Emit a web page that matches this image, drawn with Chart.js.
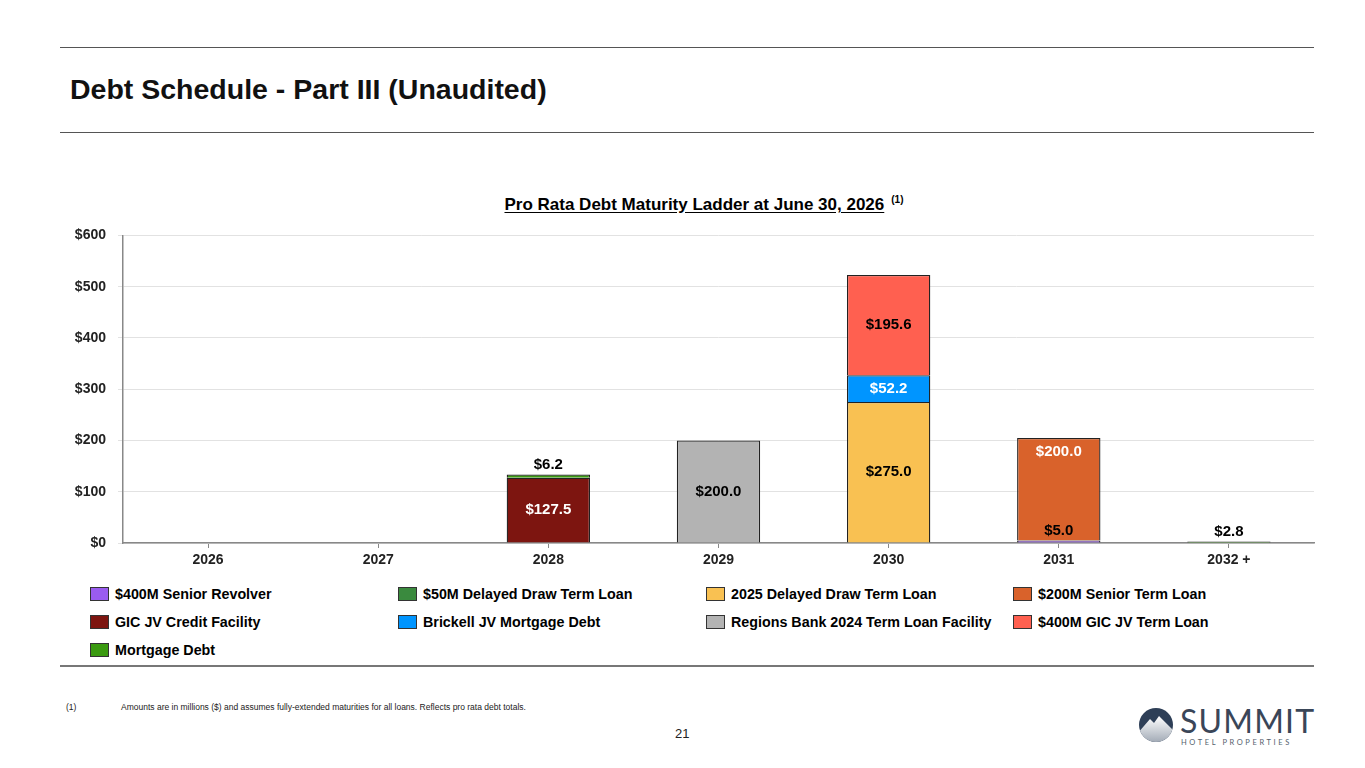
<!DOCTYPE html>
<html>
<head>
<meta charset="utf-8">
<script src="https://cdn.jsdelivr.net/npm/chart.js@4/dist/chart.umd.min.js"></script>
<style>
  body { margin: 0; background: #fff; font-family: "Liberation Sans", Arial, sans-serif; color: #000; }
  #page { position: relative; width: 1365px; height: 768px; overflow: hidden; }
  .rule { position: absolute; left: 60px; width: 1254px; height: 1px; background: #555; }
  #title { position: absolute; left: 70px; top: 73px; font-size: 28.5px; font-weight: bold; color: #111; }
  #chartTitle { position: absolute; left: 0; width: 1408px; top: 194px; text-align: center; font-size: 17px; font-weight: bold; }
  #chartTitle u { text-underline-offset: 2px; }
  #chartTitle sup { font-size: 10px; margin-left: 7px; vertical-align: 7px; }
  #chartBox { position: absolute; left: 60px; top: 215px; width: 1260px; height: 358px; }
  #legend { position: absolute; left: 90px; top: 586px; width: 1240px; }
  .item { position: absolute; display: flex; align-items: center; font-size: 14.3px; font-weight: bold; white-space: nowrap; }
  .swatch { width: 19px; height: 14px; border: 1px solid #333; margin-right: 6px; box-sizing: border-box; }
  #foot { position: absolute; left: 66px; top: 702px; font-size: 8.5px; color: #222; }
  #foot span { position: absolute; left: 55px; white-space: nowrap; }
  #pageNo { position: absolute; left: 675px; top: 726px; font-size: 13px; color: #222; }
  #logo { position: absolute; left: 1138px; top: 703px; }
</style>
</head>
<body>
<div id="page">
  <div class="rule" style="top:47px"></div>
  <div id="title">Debt Schedule - Part III (Unaudited)</div>
  <div class="rule" style="top:132px"></div>

  <div id="chartTitle"><u>Pro Rata Debt Maturity Ladder at June 30, 2026</u><sup>(1)</sup></div>
  <div id="chartBox"><canvas id="chart"></canvas></div>
  <div id="legend"></div>

  <div class="rule" style="top:665px;height:2px;background:#777"></div>
  <div id="foot">(1)<span>Amounts are in millions ($) and assumes fully-extended maturities for all loans. Reflects pro rata debt totals.</span></div>
  <div id="pageNo">21</div>

  <svg id="logo" width="180" height="45" viewBox="0 0 180 45">
    <defs>
      <clipPath id="disc"><circle cx="18" cy="22" r="17"/></clipPath>
      <linearGradient id="snow" x1="0" y1="0" x2="0" y2="1">
        <stop offset="0" stop-color="#ffffff"/>
        <stop offset="1" stop-color="#8e98a6"/>
      </linearGradient>
    </defs>
    <g clip-path="url(#disc)">
      <rect x="0" y="0" width="40" height="45" fill="#2e3f57"/>
      <path d="M0 30 L12 16 L16 20 L21 13 L36 28 L36 45 L0 45 Z" fill="url(#snow)"/>
    </g>
    <text x="42" y="30" font-family="Lato, 'Open Sans', sans-serif" font-size="32" fill="#3a4658" letter-spacing="1.2">SUMMIT</text>
    <text x="43" y="42" font-family="Lato, 'Open Sans', sans-serif" font-size="7.5" fill="#555f6d" letter-spacing="2.6">HOTEL PROPERTIES</text>
  </svg>
</div>

<script>
const categories = ['2026', '2027', '2028', '2029', '2030', '2031', '2032 +'];

// values in $ millions, null where a loan has no maturity that year
const seniorRevolver400   = [null, null, null, null, null, 5.0, null];
const delayedDraw50       = [null, null, null, null, null, null, null];
const delayedDraw2025     = [null, null, null, null, 275.0, null, null];
const seniorTermLoan200   = [null, null, null, null, null, 200.0, null];
const gicCreditFacility   = [null, null, 127.5, null, null, null, null];
const brickellMortgage    = [null, null, null, null, 52.2, null, null];
const regionsTermLoan     = [null, null, null, 200.0, null, null, null];
const gicTermLoan400      = [null, null, null, null, 195.6, null, null];
const mortgageDebt        = [null, null, 6.2, null, null, null, 2.8];

const yTicks = [0, 100, 200, 300, 400, 500, 600];

const series = [
  { label: '$400M Senior Revolver',               data: seniorRevolver400, color: '#9a5cf0', text: '#000' },
  { label: '$50M Delayed Draw Term Loan',         data: delayedDraw50,     color: '#3a8a3e', text: '#fff' },
  { label: '2025 Delayed Draw Term Loan',         data: delayedDraw2025,   color: '#f9c152', text: '#000' },
  { label: '$200M Senior Term Loan',              data: seniorTermLoan200, color: '#d9622b', text: '#fff' },
  { label: 'GIC JV Credit Facility',              data: gicCreditFacility, color: '#7d1510', text: '#fff' },
  { label: 'Brickell JV Mortgage Debt',           data: brickellMortgage,  color: '#0095ff', text: '#fff' },
  { label: 'Regions Bank 2024 Term Loan Facility',data: regionsTermLoan,   color: '#b3b3b3', text: '#000' },
  { label: '$400M GIC JV Term Loan',              data: gicTermLoan400,    color: '#ff6050', text: '#000' },
  { label: 'Mortgage Debt',                       data: mortgageDebt,      color: '#3a9a10', text: '#000' }
];

// legend, 4 columns
const legend = document.getElementById('legend');
const colX = [0, 308, 616, 923];
series.forEach((s, i) => {
  const el = document.createElement('div');
  el.className = 'item';
  el.style.left = colX[i % 4] + 'px';
  el.style.top = (Math.floor(i / 4) * 28) + 'px';
  el.innerHTML = '<div class="swatch" style="background:' + s.color + '"></div>' + s.label;
  legend.appendChild(el);
});

const SMALL = 20;

// value labels on the stacked bars
const barLabels = {
  id: 'barLabels',
  afterDatasetsDraw(chart) {
    const ctx = chart.ctx;
    ctx.save();
    ctx.font = 'bold 15px "Liberation Sans", Arial, sans-serif';
    ctx.textAlign = 'center';
    ctx.textBaseline = 'middle';
    chart.data.datasets.forEach((ds, i) => {
      const meta = chart.getDatasetMeta(i);
      ds.data.forEach((v, j) => {
        if (v == null) return;
        const bar = meta.data[j];
        const top = Math.min(bar.y, bar.base);
        const bottom = Math.max(bar.y, bar.base);
        let y, color;
        if (v < SMALL) {
          y = top - 10;
          color = '#000';
        } else {
          // a small labelled segment underneath pushes this label to the top
          const smallBelow = chart.data.datasets.slice(0, i).some(d => d.data[j] != null && d.data[j] < SMALL);
          y = smallBelow ? top + 14 : (top + bottom) / 2;
          color = ds.labelColor;
        }
        ctx.fillStyle = color;
        ctx.fillText('$' + v.toFixed(1), bar.x, y);
      });
    });
    ctx.restore();
  }
};

const font = { family: '"Liberation Sans", Arial, sans-serif', size: 14, weight: 'bold' };

new Chart(document.getElementById('chart'), {
  type: 'bar',
  data: {
    labels: categories,
    datasets: series.map(s => ({
      label: s.label,
      data: s.data,
      backgroundColor: s.color,
      borderColor: '#222',
      borderWidth: 1.3,
      labelColor: s.text,
      barPercentage: 0.49,
      categoryPercentage: 1
    }))
  },
  options: {
    responsive: true,
    maintainAspectRatio: false,
    animation: false,
    layout: { padding: { top: 0, right: 6 } },
    plugins: {
      legend: { display: false },
      tooltip: { enabled: false }
    },
    scales: {
      x: {
        stacked: true,
        grid: { display: true, drawOnChartArea: false, offset: false, tickLength: 5, color: '#888' },
        border: { color: '#888', width: 1.5 },
        ticks: { font: font, color: '#222', padding: 4 },
        afterFit(scale) { scale.height = 30; }
      },
      y: {
        stacked: true,
        min: 0,
        max: 600,
        afterBuildTicks(scale) { scale.ticks = yTicks.map(v => ({ value: v })); },
        grid: { color: '#e2e2e2', tickLength: 5 },
        border: { color: '#888', width: 1.5 },
        ticks: { font: font, color: '#222', padding: 12, callback: v => '$' + v },
        afterFit(scale) { scale.width = 63; }
      }
    }
  },
  plugins: [barLabels]
});
</script>
</body>
</html>
